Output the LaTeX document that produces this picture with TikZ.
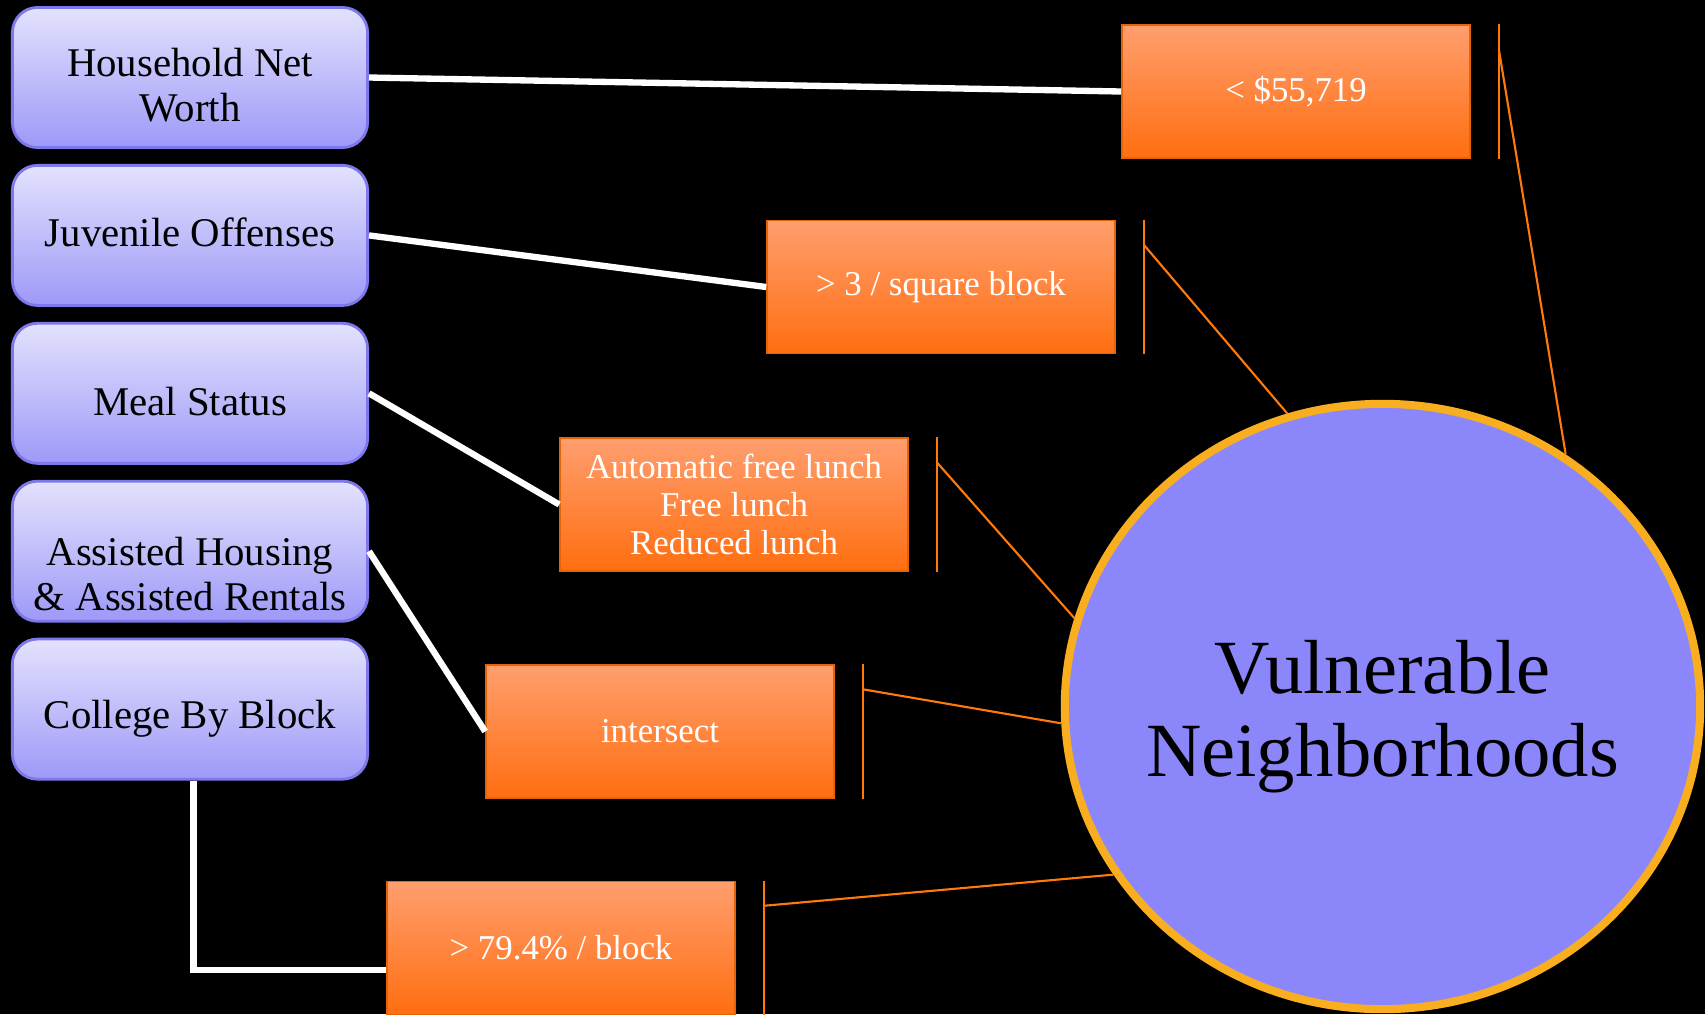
\documentclass[tikz,border=0pt]{standalone}
\usepackage{fontspec}
\setmainfont{Liberation Serif}
\usetikzlibrary{positioning, shapes.geometric}
\definecolor{factortop}{HTML}{E3E2FD}
\definecolor{factorbot}{HTML}{9D99F8}
\definecolor{factorline}{HTML}{7E78EC}
\definecolor{crittop}{HTML}{FF9E6E}
\definecolor{critbot}{HTML}{FF6E10}
\definecolor{critline}{HTML}{E5640A}
\definecolor{vnfill}{HTML}{8B87FB}
\definecolor{vnline}{HTML}{F9AE1F}
\definecolor{bracketline}{HTML}{FF7A0A}
% lowers a block of centred lines without changing the size of the node
\newcommand{\droptext}[2]{\raisebox{-#1}[\height][\depth]{\begin{tabular}{@{}c@{}}#2\end{tabular}}}

\begin{document}
\begin{tikzpicture}[%
		x=0.01cm, y=-0.01cm,
		node distance=1.5mm,
		factor/.style={
			rectangle,
			rounded corners=2.5mm,
			minimum width=35.5mm,
			minimum height=14mm,
			top color=factortop,
			bottom color=factorbot,
			draw=factorline,
			thick,
			align=center,
			font=\fontsize{11.6}{12.8}\selectfont
		},
		criterion/.style={
			rectangle,
			minimum width=34.8mm,
			minimum height=13.3mm,
			top color=crittop,
			bottom color=critbot,
			draw=critline,
			thin,
			text=white,
			align=center,
			font=\fontsize{9.9}{10.8}\selectfont
		},
		outcome/.style={
			ellipse,
			inner sep=0pt,
			minimum width=63.5mm,
			minimum height=60.5mm,
			fill=vnfill,
			draw=vnline,
			line width=2.3pt,
			align=center,
			font=\fontsize{21.8}{23.6}\selectfont
		},
		link/.style={
			white,
			line width=1.8pt
		},
		bracket/.style={
			bracketline,
			line width=0.6pt
		}]

		\path[use as bounding box, fill=black] (0,0) rectangle (1705,1014);

		% FACTORS

		\node (hnw) [factor] at (190,77.5) {\droptext{1.25mm}{Household Net\\Worth}};
		\node (juv) [factor, below=of hnw] {\droptext{0.25mm}{Juvenile Offenses}};
		\node (meal) [factor, below=of juv] {\droptext{1.35mm}{Meal Status}};
		\node (ahar) [factor, below=of meal] {\droptext{2.8mm}{Assisted Housing\\\& Assisted Rentals}};
		\node (cbb) [factor, below=of ahar] {\droptext{1mm}{College By Block}};

		% CRITERIA

		\node (crit1) [criterion] at (1296,91.5) {< \$55,719};
		\node (crit2) [criterion] at (941,287) {> 3 / square block};
		\node (crit3) [criterion] at (734,504.5) {Automatic free lunch\\Free lunch\\Reduced lunch};
		\node (crit4) [criterion] at (660,731.5) {intersect};
		\node (crit5) [criterion] at (561,948) {> 79.4\% / block};

		\node (vn) [outcome] at (1382.5,706.5) {\makebox[0pt]{\droptext{1.2mm}{Vulnerable\\Neighborhoods}}};

		% FACTOR LINKS

		\draw[link] (hnw.east) -- (crit1.west);
		\draw[link] (juv.east) -- (crit2.west);
		\draw[link] (meal.east) -- (crit3.west);
		\draw[link] (ahar.east) -- (crit4.west);
		\draw[link] ([xshift=0.35mm]cbb.south) |- ([yshift=-2.2mm]crit5.west);

		% BRACKETS

		\draw[bracket] ([xshift=2.8mm]crit1.north east) -- ([xshift=2.8mm]crit1.south east);
		\draw[bracket] ([xshift=2.8mm]crit2.north east) -- ([xshift=2.8mm]crit2.south east);
		\draw[bracket] ([xshift=2.8mm]crit3.north east) -- ([xshift=2.8mm]crit3.south east);
		\draw[bracket] ([xshift=2.8mm]crit4.north east) -- ([xshift=2.8mm]crit4.south east);
		\draw[bracket] ([xshift=2.8mm]crit5.north east) -- ([xshift=2.8mm]crit5.south east);

		\draw[bracket] ([xshift=2.8mm,yshift=-2.5mm]crit1.north east) -- (vn.54);
		\draw[bracket] ([xshift=2.8mm,yshift=-2.5mm]crit2.north east) -- (vn.108);
		\draw[bracket] ([xshift=2.8mm,yshift=-2.5mm]crit3.north east) -- (vn.164);
		\draw[bracket] ([xshift=2.8mm,yshift=-2.5mm]crit4.north east) -- (vn.183);
		\draw[bracket] ([xshift=2.8mm,yshift=-2.5mm]crit5.north east) -- (vn.212);
\end{tikzpicture}
\end{document}
